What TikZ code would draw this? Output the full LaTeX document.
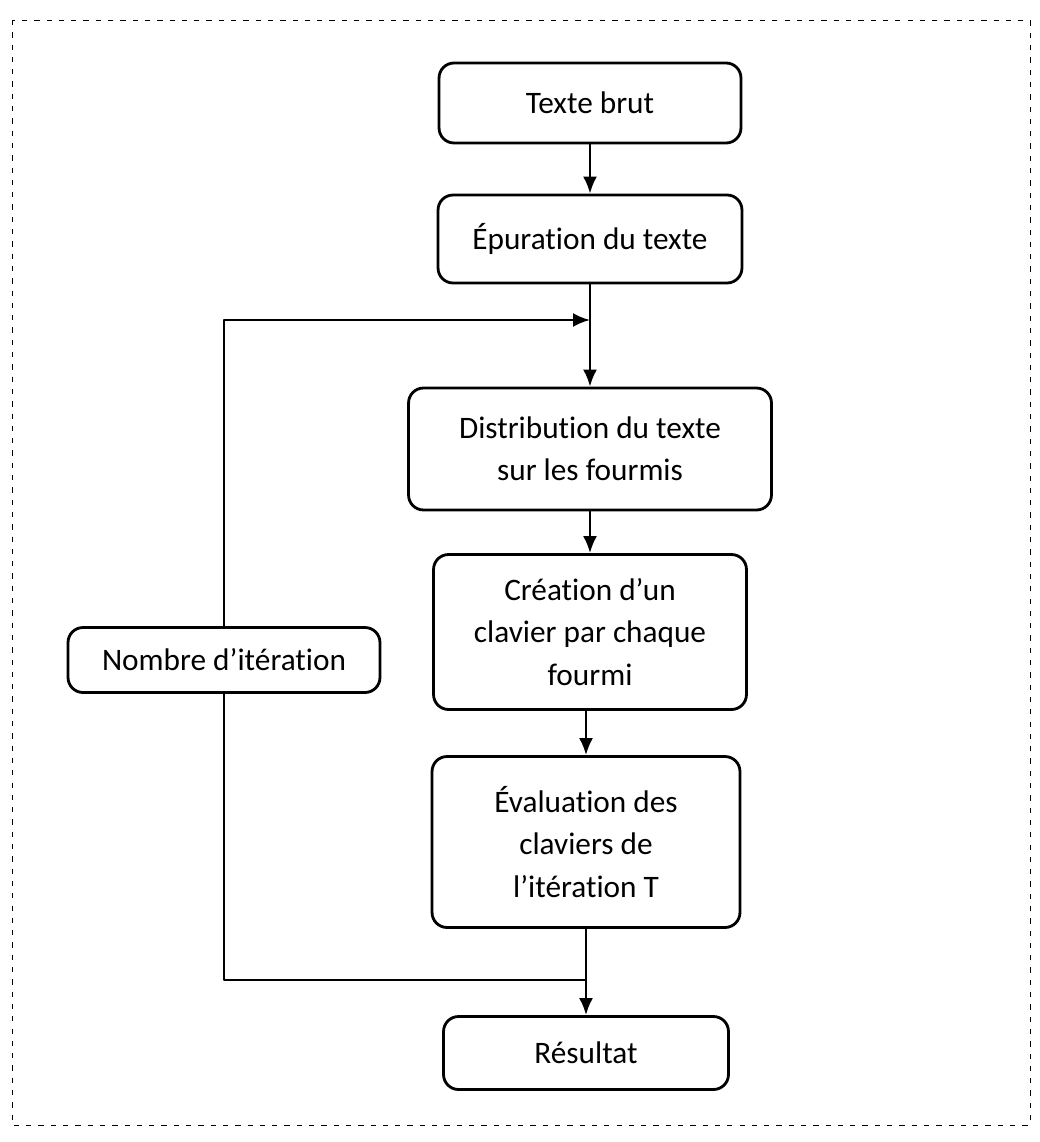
\documentclass[tikz,border=0pt]{standalone}
\usepackage{fontspec}
\setmainfont{Carlito}[Ligatures=NoCommon]
\usetikzlibrary{arrows.meta}

\tikzset{
    etape/.style={draw,line width=1.6pt,rounded corners=0.3cm,align=center,
        font=\fontsize{17.8}{24}\selectfont,inner sep=2pt},
    fleche/.style={line width=1.4pt,-{Latex[length=0.34cm,width=0.28cm]}},
    trait/.style={line width=1.4pt}
}

\begin{document}
\begin{tikzpicture}[x=0.02cm,y=-0.02cm,line join=round]
        % fix the page size
        \useasboundingbox (0,0) rectangle (1039,1142);

        % draw the dashed frame
        \draw[dashed,line width=0.5pt,dash pattern=on 3pt off 4pt] (12,20) rectangle (1030,1125);

        % draw the steps
        \node[etape,minimum width=6.04cm,minimum height=1.6cm]  (brut)    at (590,103)  {Texte brut};
        \node[etape,minimum width=6.08cm,minimum height=1.76cm] (epur)    at (590,239)  {Épuration du texte};
        \node[etape,minimum width=7.26cm,minimum height=2.44cm] (distrib) at (590,449)  {Distribution du texte\\sur les fourmis};
        \node[etape,minimum width=6.26cm,minimum height=3.1cm]  (creat)   at (590,632)  {Création d’un\\clavier par chaque\\fourmi};
        \node[etape,minimum width=6.16cm,minimum height=3.42cm] (eval)    at (586,842)  {Évaluation des\\claviers de\\l’itération T};
        \node[etape,minimum width=5.7cm,minimum height=1.46cm]  (result)  at (586,1053) {Résultat};
        \node[etape,minimum width=6.24cm,minimum height=1.3cm]  (nombre)  at (224,660)  {Nombre d’itération};

        % the points where the loop meets the main line
        \coordinate (boucle) at (590,320);
        \coordinate (sortie) at (586,980);

        % draw the arrows between the steps
        \draw[fleche] (brut) -- (epur);
        \draw[fleche] (epur) -- (distrib);
        \draw[fleche] (distrib) -- (creat);
        \draw[fleche] (creat.south -| eval.north) -- (eval);
        \draw[fleche] (eval) -- (result);

        % draw the loop
        \draw[fleche] (nombre.north) |- (boucle);
        \draw[trait] (nombre.south) |- (sortie);
\end{tikzpicture}
\end{document}
